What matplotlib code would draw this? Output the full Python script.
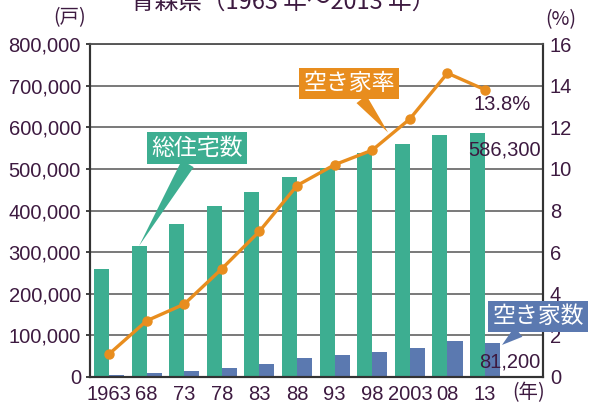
import numpy as np
import matplotlib
matplotlib.use('Agg')
from matplotlib import pyplot as plt, ticker as tick

plt.rcParams['font.family'] = ['Liberation Sans', 'Noto Sans CJK JP']

# data
years = ['1963', '68', '73', '78', '83', '88', '93', '98', '2003', '08', '13']
total_houses = [260000, 315000, 368000, 411000, 445000, 481000, 503000, 537000, 560000, 582000, 586300]
vacant_houses = [5000, 10000, 14000, 22000, 32000, 46000, 53000, 61000, 70000, 86000, 81200]
vacancy_rate = [1.1, 2.7, 3.5, 5.2, 7.0, 9.2, 10.2, 10.9, 12.4, 14.6, 13.8]

green = '#3dae91'
blue = '#5b79b0'
orange = '#e88d1e'
txt = '#3d1a40'
cjk = ['Noto Sans CJK JP', 'DejaVu Sans']

fig = plt.figure(figsize=(5.91, 4.05), dpi=100)
ax = fig.add_axes([90/591, 28/405, 453/591, 333/405])
ax2 = ax.twinx()

x = np.arange(len(years))
ax.bar(x - 0.2, total_houses, width=0.4, color=green, zorder=2)
ax.bar(x + 0.2, vacant_houses, width=0.4, color=blue, zorder=2)
ax2.plot(x, vacancy_rate, color=orange, lw=2.4, marker='o', ms=6.5, zorder=3)

ax.set_xlim(-0.505, 11.54)
ax.set_ylim(0, 800000)
ax2.set_ylim(0, 16)
ax.yaxis.set_major_locator(tick.MultipleLocator(100000))
ax.yaxis.set_major_formatter(tick.FuncFormatter(lambda v, p: f'{int(v):,}'))
ax2.yaxis.set_major_locator(tick.MultipleLocator(2))
ax.set_xticks(x)
ax.set_xticklabels(years)

ax.set_axisbelow(True)
ax.grid(axis='y', color='#555555', lw=1.1)
ax.tick_params(axis='y', length=3, width=1.3, color='#333333', pad=3.5, labelsize=14.5, labelcolor=txt)
ax.tick_params(axis='x', length=0, pad=5.5, labelsize=14.5, labelcolor=txt)
ax2.tick_params(axis='y', length=0, pad=5, labelsize=14.5, labelcolor=txt)
for a in (ax, ax2):
    for s in a.spines.values():
        s.set_color('#333333')
        s.set_linewidth(1.5)
    a.spines['top'].set_color('#555555')
    a.spines['top'].set_linewidth(1.1)

# unit labels and title (title is cut off at the top, as in the source)
fig.text(70/591, 1 - 18/405, '(戸)', ha='center', va='center', fontsize=14, color=txt, family=cjk)
fig.text(561/591, 1 - 20/405, '(%)', ha='center', va='center', fontsize=14, color=txt, family=cjk)
fig.text(529/591, 1 - 393/405, '(年)', ha='center', va='center', fontsize=14, color=txt, family=cjk)
fig.text(283/591, 1 - 9/405, '青森県（1963 年～2013 年）', ha='center', va='baseline',
         fontsize=17, color=txt, family=cjk)

# callouts
def callout(label, xy, xytext, color, coords, tw):
    ax2.annotate(label, xy=xy, xycoords=coords, xytext=xytext, textcoords=coords,
                 ha='center', va='center', fontsize=16.5, color='white', family=cjk,
                 bbox=dict(boxstyle='square,pad=0.18', fc=color, ec='none'),
                 arrowprops=dict(arrowstyle=f'wedge,tail_width={tw}', fc=color, ec='none',
                                 shrinkA=0, shrinkB=0), zorder=5)

callout('総住宅数', (0.8, total_houses[1]), (2.34, 550000), green, ax.transData, 0.6)
callout('空き家率', (7.42, 11.75), (6.38, 14.1), orange, ax2.transData, 0.55)
callout('空き家数', (10.45, 77000), (11.41, 146000), blue, ax.transData, 0.55)

ax2.text(10.46, 13.1, f'{vacancy_rate[-1]}%', ha='center', va='center', fontsize=14.5, color=txt, zorder=6)
ax2.text(10.53, 545700, f'{total_houses[-1]:,}', transform=ax.transData, ha='center', va='center',
         fontsize=14.5, color=txt, zorder=6)
ax2.text(10.66, 36000, f'{vacant_houses[-1]:,}', transform=ax.transData, ha='center', va='center',
         fontsize=14.5, color=txt, zorder=6)

fig.savefig('out.png', dpi=100)
